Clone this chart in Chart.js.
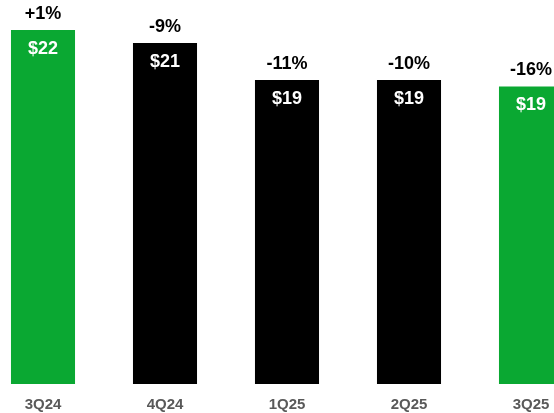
<!DOCTYPE html>
<html>
<head>
<meta charset="utf-8">
<script src="https://cdn.jsdelivr.net/npm/chart.js@4"></script>
<style>
  html, body { margin: 0; padding: 0; background: #ffffff; overflow: hidden; width: 554px; height: 413px; }
  #wrap { position: absolute; left: -18px; top: 0; width: 610px; height: 413px; }
</style>
</head>
<body>
<div id="wrap"><canvas id="c" width="610" height="413"></canvas></div>
<script>
const categories = ["3Q24", "4Q24", "1Q25", "2Q25", "3Q25"];
const revenue = [22.0, 21.2, 18.9, 18.9, 18.5];
const valueLabels = ["$22", "$21", "$19", "$19", "$19"];
const changeLabels = ["+1%", "-9%", "-11%", "-10%", "-16%"];
const barColors = ["#0aa832", "#000000", "#000000", "#000000", "#0aa832"];

const labelPlugin = {
  id: 'barLabels',
  afterDatasetsDraw(chart) {
    const ctx = chart.ctx;
    const meta = chart.getDatasetMeta(0);
    ctx.save();
    ctx.textAlign = 'center';
    ctx.textBaseline = 'middle';
    meta.data.forEach((bar, i) => {
      ctx.font = 'bold 18px "Liberation Sans", Arial, sans-serif';
      ctx.fillStyle = '#ffffff';
      ctx.fillText(valueLabels[i], bar.x, bar.y + 19);
      ctx.fillStyle = '#000000';
      ctx.fillText(changeLabels[i], bar.x, bar.y - 16);
    });
    ctx.restore();
  }
};

new Chart(document.getElementById('c'), {
  type: 'bar',
  data: {
    labels: categories,
    datasets: [{
      data: revenue,
      backgroundColor: barColors,
      borderWidth: 0,
      categoryPercentage: 1.0,
      barPercentage: 0.525
    }]
  },
  options: {
    responsive: false,
    animation: false,
    layout: { padding: 0 },
    plugins: { legend: { display: false }, tooltip: { enabled: false } },
    scales: {
      x: {
        grid: { display: false },
        border: { display: false },
        ticks: {
          color: '#595959',
          font: { family: '"Liberation Sans", Arial, sans-serif', size: 15, weight: 'bold' },
          padding: 4,
          maxRotation: 0
        },
        afterFit(scale) { scale.height = 29; }
      },
      y: {
        display: false,
        min: 0,
        max: 23.87
      }
    }
  },
  plugins: [labelPlugin]
});
</script>
</body>
</html>
